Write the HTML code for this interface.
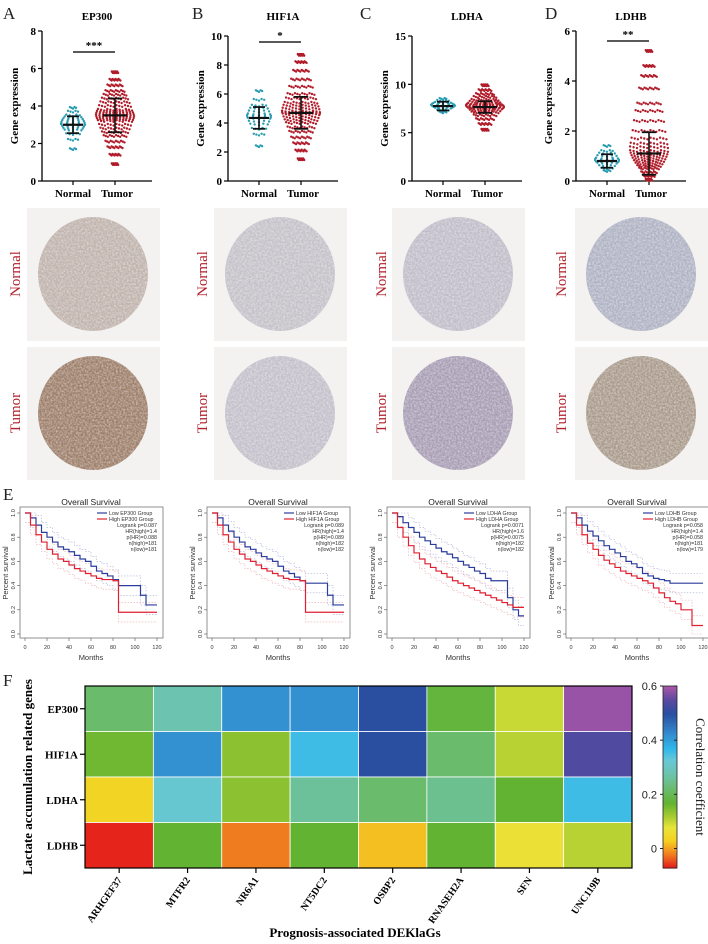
<!DOCTYPE html>
<html><head><meta charset="utf-8">
<style>
html,body{margin:0;padding:0;background:#fff;}
svg{display:block;}
.serif{font-family:"Liberation Serif",serif;}
.sans{font-family:"Liberation Sans",sans-serif;}
</style></head>
<body>
<svg id="fig" width="708" height="944" viewBox="0 0 708 944" xmlns="http://www.w3.org/2000/svg">
<defs>
<filter id="tex" x="0" y="0" width="100%" height="100%">
<feTurbulence type="fractalNoise" baseFrequency="0.55" numOctaves="2" seed="3" result="n"/>
<feColorMatrix in="n" type="matrix" values="0 0 0 0 0  0 0 0 0 0  0 0 0 0 0  0 0 0 -1.6 1.1" result="a"/>
<feComposite in="SourceGraphic" in2="a" operator="in"/>
</filter>
</defs>
<g id="scatters"></g>
<g id="ihc"></g>
<g id="surv"></g>
<g id="heat"></g>
</svg>
<script>
// ---------- Scatter data (gene expression quantiles) ----------
const scatterGenes = ["EP300","HIF1A","LDHA","LDHB"];
const scatterLetters = ["A","B","C","D"];
const scatterYMax = [8,10,15,6];
const scatterYTicks = [[0,2,4,6,8],[0,2,4,6,8,10],[0,5,10,15],[0,2,4,6]];
const scatterSig = ["***","*","","**"];
const normalVals = [
 [1.7,2.2,2.5,2.7,2.8,2.9,3.0,3.0,3.1,3.2,3.3,3.4,3.5,3.7,3.9],
 [2.4,3.2,3.6,3.9,4.1,4.3,4.4,4.5,4.6,4.8,5.0,5.2,5.6,6.2],
 [7.1,7.3,7.5,7.6,7.7,7.8,7.8,7.9,8.0,8.1,8.3,8.5],
 [0.4,0.5,0.6,0.7,0.75,0.8,0.85,0.9,1.0,1.1,1.2,1.4]
];
const tumorVals = [
 [0.9,1.4,1.8,2.1,2.4,2.6,2.8,3.0,3.2,3.3,3.4,3.5,3.6,3.7,3.8,4.0,4.2,4.4,4.6,4.8,5.1,5.4,5.8],
 [1.5,2.1,2.6,3.0,3.4,3.7,4.0,4.2,4.4,4.6,4.7,4.8,5.0,5.2,5.4,5.7,6.0,6.5,7.0,7.6,8.2,8.7],
 [5.3,5.9,6.4,6.8,7.1,7.3,7.5,7.6,7.7,7.8,7.9,8.0,8.2,8.4,8.7,9.0,9.4,9.9],
 [0.05,0.2,0.35,0.5,0.6,0.7,0.8,0.9,1.0,1.1,1.2,1.35,1.5,1.7,2.0,2.4,2.8,3.1,3.7,4.2,4.6,5.2]
];
const normalMean=[3.0,4.35,7.75,0.8], normalSD=[0.45,0.75,0.45,0.27];
const tumorMean=[3.5,4.7,7.65,1.1], tumorSD=[0.9,1.1,0.6,0.85];

// ---------- Survival data ----------
const survMonths = [0,5,10,15,20,25,30,35,40,45,50,55,60,65,70,75,80,85,90,95,100,105,110,115,120];
const survLow = [
 [1.0,0.96,0.9,0.84,0.8,0.76,0.72,0.7,0.68,0.65,0.62,0.6,0.56,0.52,0.5,0.48,0.45,0.4,0.4,0.4,0.4,0.32,0.24,0.24,0.24],
 [1.0,0.96,0.9,0.85,0.8,0.76,0.72,0.7,0.67,0.64,0.62,0.6,0.56,0.52,0.5,0.47,0.44,0.42,0.42,0.42,0.42,0.32,0.24,0.24,0.24],
 [1.0,0.97,0.92,0.88,0.84,0.8,0.77,0.74,0.71,0.68,0.66,0.63,0.6,0.57,0.55,0.52,0.5,0.46,0.44,0.44,0.44,0.3,0.2,0.15,0.15],
 [1.0,0.96,0.9,0.85,0.81,0.77,0.73,0.7,0.67,0.64,0.6,0.58,0.55,0.5,0.48,0.46,0.45,0.44,0.42,0.42,0.42,0.42,0.42,0.42,0.42]
];
const survHigh = [
 [1.0,0.9,0.82,0.76,0.7,0.66,0.62,0.6,0.57,0.54,0.52,0.5,0.48,0.46,0.45,0.45,0.44,0.18,0.18,0.18,0.18,0.18,0.18,0.18,0.18],
 [1.0,0.9,0.82,0.76,0.7,0.66,0.62,0.6,0.57,0.54,0.52,0.5,0.48,0.46,0.45,0.45,0.44,0.18,0.18,0.18,0.18,0.18,0.18,0.18,0.18],
 [1.0,0.88,0.8,0.73,0.67,0.62,0.58,0.55,0.52,0.5,0.47,0.44,0.42,0.4,0.38,0.36,0.34,0.32,0.3,0.28,0.26,0.24,0.22,0.22,0.22],
 [1.0,0.9,0.82,0.75,0.7,0.65,0.61,0.58,0.55,0.52,0.5,0.48,0.46,0.44,0.42,0.38,0.34,0.3,0.27,0.25,0.2,0.2,0.07,0.07,0.07]
];
const survStats = [
 ["Logrank p=0.087","HR(high)=1.4","p(HR)=0.088","n(high)=181","n(low)=181"],
 ["Logrank p=0.089","HR(high)=1.4","p(HR)=0.089","n(high)=182","n(low)=182"],
 ["Logrank p=0.0071","HR(high)=1.6","p(HR)=0.0075","n(high)=182","n(low)=182"],
 ["Logrank p=0.058","HR(high)=1.4","p(HR)=0.058","n(high)=181","n(low)=179"]
];
const survXTicks=[0,20,40,60,80,100,120];
const survYTicks=[0,0.2,0.4,0.6,0.8,1.0];

// ---------- Heatmap data ----------
const heatRows = ["EP300","HIF1A","LDHA","LDHB"];
const heatCols = ["ARHGEF37","MTFR2","NR6A1","NT5DC2","OSBP2","RNASEH2A","SFN","UNC119B"];
const heatEP300 = [0.22,0.28,0.42,0.42,0.50,0.18,0.10,0.59];
const heatHIF1A = [0.16,0.42,0.14,0.36,0.50,0.22,0.11,0.54];
const heatLDHA  = [0.04,0.32,0.14,0.26,0.22,0.25,0.17,0.36];
const heatLDHB  = [-0.065,0.17,-0.02,0.17,0.02,0.17,0.07,0.11];
const heatValues = [heatEP300,heatHIF1A,heatLDHA,heatLDHB];
const cbarTicks = [0,0.2,0.4,0.6];

const NS="http://www.w3.org/2000/svg";
function mk(tag,attrs,parent,text){const e=document.createElementNS(NS,tag);for(const k in attrs)e.setAttribute(k,attrs[k]);if(text!==undefined)e.textContent=text;parent.appendChild(e);return e;}

// ========== Scatter panels ==========
const sc=document.getElementById('scatters');
const axX=[42,228,412,576], yTopPx=[31,36,36,31], yBot=181;
scatterGenes.forEach((g,gi)=>{
  const grp=mk('g',{},sc);
  
  
  const ax=axX[gi], top=yTopPx[gi];
  const Y=v=>yBot-(v/scatterYMax[gi])*(yBot-top);
  const xN=ax+31, xT=ax+73;
  const lx=[3,192,360,545][gi];
  const L=mk('text',{x:lx,y:19,'font-size':17,class:'serif',fill:'#222'},grp,scatterLetters[gi]);
  
  const t=mk('text',{x:ax+55,y:20,'font-size':11,'font-weight':'bold','text-anchor':'middle',class:'serif'},grp,g);
  
  const a=mk('path',{d:`M${ax},${top} V${yBot} H${ax+110}`,stroke:'#000','stroke-width':1.3,fill:'none'},grp);
  
  scatterYTicks[gi].forEach(v=>{
    mk('line',{x1:ax-4,x2:ax,y1:Y(v),y2:Y(v),stroke:'#000','stroke-width':1.2},grp);
    const tl=mk('text',{x:ax-6,y:Y(v)+4,'font-size':11,'font-weight':'bold','text-anchor':'end',class:'serif'},grp,String(v));
    
  });
  [xN,xT].forEach(x=>mk('line',{x1:x,x2:x,y1:yBot,y2:yBot+4,stroke:'#000','stroke-width':1.2},grp));
  const n1=mk('text',{x:xN,y:197,'font-size':11,'font-weight':'bold','text-anchor':'middle',class:'serif'},grp,'Normal');
  
  const n2=mk('text',{x:xT+2,y:197,'font-size':11,'font-weight':'bold','text-anchor':'middle',class:'serif'},grp,'Tumor');
  
  const yl=mk('text',{x:0,y:0,'font-size':11,'font-weight':'bold','text-anchor':'middle',class:'serif',transform:`translate(${ax-24},${(top+yBot)/2}) rotate(-90)`},grp,'Gene expression');
  
  function dots(vals,cx,maxW,col,reps){
    const n=vals.length;
    vals.forEach((v,i)=>{
      const q=(i+0.5)/n; const w=maxW*(1-Math.pow(Math.abs(2*q-1),1.6))+2;
      for(let k=0;k<reps;k++){
        const off=reps===1?0:(-w+2*w*k/(reps-1));
        const jy=((k%3)-1)*0.8;
        const c=mk('circle',{cx:cx+off,cy:Y(v)+jy,r:1.2,fill:col},grp);
        
      }
    });
  }
  dots(normalVals[gi],xN,10,'#2a9db0',5);
  dots(tumorVals[gi],xT,17,'#b01c2a',12);
  function bar(cx,m,sd,hw){
    mk('line',{x1:cx-hw,x2:cx+hw,y1:Y(m),y2:Y(m),stroke:'#111','stroke-width':2.2},grp);
    mk('line',{x1:cx,x2:cx,y1:Y(Math.max(0,m-sd)),y2:Y(m+sd),stroke:'#111','stroke-width':1.6},grp);
    mk('line',{x1:cx-hw*0.6,x2:cx+hw*0.6,y1:Y(m+sd),y2:Y(m+sd),stroke:'#111','stroke-width':1.8},grp);
    mk('line',{x1:cx-hw*0.6,x2:cx+hw*0.6,y1:Y(Math.max(0,m-sd)),y2:Y(Math.max(0,m-sd)),stroke:'#111','stroke-width':1.8},grp);
  }
  bar(xN,normalMean[gi],normalSD[gi],10);
  bar(xT,tumorMean[gi],tumorSD[gi],12);
  if(scatterSig[gi]){
    const by=[52,42,0,41][gi];
    mk('line',{x1:xN,x2:xT,y1:by,y2:by,stroke:'#222','stroke-width':1.4},grp);
    const s=mk('text',{x:(xN+xT)/2,y:by-3,'font-size':11,'font-weight':'bold','text-anchor':'middle',class:'serif'},grp,scatterSig[gi]);
    
  }
});

// ========== IHC images ==========
const ih=document.getElementById('ihc');
const sqX=[27,214,392,575], rowY=[208,347];
const ihcCols=[["#bfb2ab","#9c7d68"],["#c4c0c8","#c3bfca"],["#c0bcc8","#a79cb3"],["#aeb1c2","#a8998a"]];
const labX=[15,202,381,561];
sqX.forEach((x,ci)=>{
  rowY.forEach((y,ri)=>{
    const g=mk('g',{},ih);
    
    
    mk('rect',{x:x,y:y,width:133,height:133,fill:'#f3f2f0'},g);
    const cx=x+66,cy=y+66;
    mk('ellipse',{cx:cx,cy:cy,rx:55,ry:57,fill:ihcCols[ci][ri]},g);
    mk('ellipse',{cx:cx,cy:cy,rx:55,ry:57,fill:'#ffffff',filter:'url(#tex)',opacity:0.55},g);
    const lt=mk('text',{x:0,y:0,'font-size':15,'text-anchor':'middle',class:'serif',fill:'#b0202a',transform:`translate(${labX[ci]+5},${y+66}) rotate(-90)`},g,ri?'Tumor':'Normal');
    
  });
});

// ========== Survival ==========
const sv=document.getElementById('surv');
const sx0=[25,212,392,571];
const eL=mk('text',{x:3,y:500,'font-size':17,class:'serif',fill:'#222'},sv,'E');

scatterGenes.forEach((g,gi)=>{
  const grp=mk('g',{},sv);
  
  
  const x0=sx0[gi];
  const X=m=>x0+m*1.1, Y=s=>634-s*121;
  mk('rect',{x:x0-5,y:507,width:143,height:131,fill:'none',stroke:'#777','stroke-width':0.8},grp);
  const t=mk('text',{x:x0+66,y:505,'font-size':8.5,'text-anchor':'middle',class:'sans',fill:'#222'},grp,'Overall Survival');
  
  survXTicks.forEach(v=>{
    mk('line',{x1:X(v),x2:X(v),y1:638,y2:641,stroke:'#555','stroke-width':0.6},grp);
    const tl=mk('text',{x:X(v),y:649,'font-size':5.5,'text-anchor':'middle',class:'sans',fill:'#333'},grp,String(v));
    
  });
  survYTicks.forEach(v=>{
    mk('line',{x1:x0-8,x2:x0-5,y1:Y(v),y2:Y(v),stroke:'#555','stroke-width':0.6},grp);
    const tl=mk('text',{x:0,y:0,'font-size':5.5,'text-anchor':'middle',class:'sans',fill:'#333',transform:`translate(${x0-10},${Y(v)}) rotate(-90)`},grp,v.toFixed(1));
    
  });
  const ml=mk('text',{x:x0+66,y:660,'font-size':7.5,'text-anchor':'middle',class:'sans',fill:'#333'},grp,'Months');
  
  const pl=mk('text',{x:0,y:0,'font-size':7.5,'text-anchor':'middle',class:'sans',fill:'#333',transform:`translate(${x0-17},573) rotate(-90)`},grp,'Percent survival');
  
  function step(arr,col,w,dash,delta,nm){
    let d=`M${X(survMonths[0])},${Y(Math.min(1,Math.max(0,arr[0]+delta)))}`;
    for(let i=1;i<survMonths.length;i++){
      const s=Math.min(1,Math.max(0,arr[i]+delta));
      d+=` H${X(survMonths[i])} V${Y(s)}`;
    }
    const p=mk('path',{d:d,stroke:col,'stroke-width':w,fill:'none','stroke-dasharray':dash||'none'},grp);
    
  }
  step(survLow[gi],'#a8aed4',0.6,'1.5,1.5',0.08,'ci-low-upper');
  step(survLow[gi],'#a8aed4',0.6,'1.5,1.5',-0.08,'ci-low-lower');
  step(survHigh[gi],'#e8a8a8',0.6,'1.5,1.5',0.08,'ci-high-upper');
  step(survHigh[gi],'#e8a8a8',0.6,'1.5,1.5',-0.08,'ci-high-lower');
  step(survLow[gi],'#2a3c9c',1.2,null,0,'low-group-curve');
  step(survHigh[gi],'#e02030',1.2,null,0,'high-group-curve');
  const lg=mk('g',{},grp);
  
  mk('line',{x1:x0+72,x2:x0+82,y1:513,y2:513,stroke:'#2a3c9c','stroke-width':1.2},lg);
  mk('line',{x1:x0+72,x2:x0+82,y1:519,y2:519,stroke:'#e02030','stroke-width':1.2},lg);
  mk('text',{x:x0+84,y:515,'font-size':5.3,class:'sans',fill:'#333'},lg,'Low '+g+' Group');
  mk('text',{x:x0+84,y:521,'font-size':5.3,class:'sans',fill:'#333'},lg,'High '+g+' Group');
  survStats[gi].forEach((s,si)=>{
    mk('text',{x:x0+132,y:527+si*6,'font-size':5.3,'text-anchor':'end',class:'sans',fill:'#333'},lg,s);
  });
});

// ========== Heatmap ==========
const hm=document.getElementById('heat');
const fL=mk('text',{x:3,y:686,'font-size':17,class:'serif',fill:'#222'},hm,'F');

const stops=[[-0.07,'#e41a1c'],[-0.02,'#f07c20'],[0.03,'#f5d020'],[0.08,'#e8e43a'],[0.12,'#a8cc30'],[0.17,'#62b332'],[0.23,'#6cbc78'],[0.28,'#6cc4b0'],[0.33,'#66c8d8'],[0.37,'#30b8ea'],[0.43,'#3388cc'],[0.50,'#2a4fa0'],[0.55,'#5a4aa0'],[0.6,'#a855a8']];
function hex(h){return [1,3,5].map(i=>parseInt(h.substr(i,2),16));}
function cmap(v){
  if(v<=stops[0][0])return stops[0][1];
  for(let i=1;i<stops.length;i++){
    if(v<=stops[i][0]){const a=stops[i-1],b=stops[i];const t=(v-a[0])/(b[0]-a[0]);const ca=hex(a[1]),cb=hex(b[1]);
      return 'rgb('+ca.map((c,k)=>Math.round(c+(cb[k]-c)*t)).join(',')+')';}
  }
  return stops[stops.length-1][1];
}
const hx0=85,hx1=632,hy0=686,hy1=868;
const cw=(hx1-hx0)/heatCols.length, ch=(hy1-hy0)/heatRows.length;
heatValues.forEach((row,ri)=>{
  row.forEach((v,ci)=>{
    const r=mk('rect',{x:hx0+ci*cw,y:hy0+ri*ch,width:cw,height:ch,fill:cmap(v),stroke:'#fff','stroke-width':0.8},hm);
    
    
  });
});
const fr=mk('rect',{x:hx0,y:hy0,width:hx1-hx0,height:hy1-hy0,fill:'none',stroke:'#000','stroke-width':1.2},hm);

heatRows.forEach((r,ri)=>{
  const y=hy0+(ri+0.5)*ch;
  mk('line',{x1:hx0-5,x2:hx0,y1:y,y2:y,stroke:'#000','stroke-width':1.2},hm);
  const t=mk('text',{x:hx0-7,y:y+4,'font-size':11,'font-weight':'bold','text-anchor':'end',class:'serif'},hm,r);
  
});
heatCols.forEach((c,ci)=>{
  const x=hx0+(ci+0.5)*cw;
  mk('line',{x1:x,x2:x,y1:hy1,y2:hy1+5,stroke:'#000','stroke-width':1.2},hm);
  const t=mk('text',{x:0,y:0,'font-size':10,'font-weight':'bold','text-anchor':'end',class:'serif',transform:`translate(${x+3},${hy1+12}) rotate(-55)`},hm,c);
  
});
const xt=mk('text',{x:355,y:937,'font-size':13,'font-weight':'bold','text-anchor':'middle',class:'serif'},hm,'Prognosis-associated DEKlaGs');

const yt=mk('text',{x:0,y:0,'font-size':13,'font-weight':'bold','text-anchor':'middle',class:'serif',transform:'translate(32,777) rotate(-90)'},hm,'Lactate accumulation related genes');

const cbx=663,cbw=14,cbTopV=0.6,cbBotV=-0.072;
const CY=v=>hy0+(cbTopV-v)/(cbTopV-cbBotV)*(hy1-hy0);
const cb=mk('g',{},hm);

for(let i=0;i<120;i++){
  const v=cbTopV-(cbTopV-cbBotV)*i/120;
  mk('rect',{x:cbx,y:CY(v),width:cbw,height:(hy1-hy0)/120+0.6,fill:cmap(v)},cb);
}
mk('rect',{x:cbx,y:hy0,width:cbw,height:hy1-hy0,fill:'none',stroke:'#222','stroke-width':0.8},cb);
cbarTicks.forEach(v=>{
  mk('line',{x1:cbx-3,x2:cbx,y1:CY(v),y2:CY(v),stroke:'#222','stroke-width':1},cb);
  mk('line',{x1:cbx+cbw-3,x2:cbx+cbw,y1:CY(v),y2:CY(v),stroke:'#222','stroke-width':1},cb);
  const t=mk('text',{x:cbx-6,y:CY(v)+4,'font-size':11,'text-anchor':'end',class:'sans',fill:'#222'},cb,String(v));
  
});
const ct=mk('text',{x:0,y:0,'font-size':13,'text-anchor':'middle',class:'serif',fill:'#222',transform:`translate(696,777) rotate(90)`},hm,'Correlation coefficient');

</script>
</body></html>
